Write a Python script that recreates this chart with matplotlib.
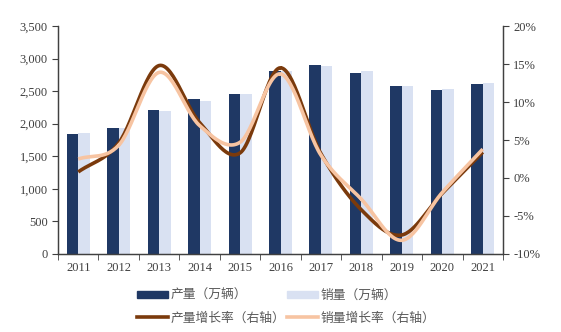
import numpy as np
import matplotlib.pyplot as plt
from matplotlib.patches import Patch
from matplotlib.lines import Line2D

plt.rcParams['font.family'] = ['Liberation Serif', 'Noto Sans CJK SC']

# data
years = ['2011', '2012', '2013', '2014', '2015', '2016', '2017', '2018', '2019', '2020', '2021']
production = [1841.9, 1927.2, 2211.7, 2372.3, 2450.3, 2811.9, 2901.5, 2780.9, 2572.1, 2522.5, 2608.2]
sales = [1850.5, 1930.6, 2198.4, 2349.2, 2459.8, 2802.8, 2887.9, 2808.1, 2576.9, 2531.1, 2627.5]
prod_growth = [0.8, 4.6, 14.8, 7.3, 3.3, 14.5, 3.2, -4.2, -7.5, -2.0, 3.4]
sales_growth = [2.5, 4.3, 13.9, 6.9, 4.7, 13.7, 3.0, -2.8, -8.2, -1.9, 3.8]

c_prod = '#1F3864'
c_sales = '#D9E1F2'
c_pg = '#7B3A0C'
c_sg = '#F7C4A2'
txt = '#404040'


def smooth(x, y, n=30):
    # catmull-rom spline through the points, like an excel "smoothed line"
    x = np.asarray(x, float)
    y = np.asarray(y, float)
    px = np.concatenate([[2 * x[0] - x[1]], x, [2 * x[-1] - x[-2]]])
    py = np.concatenate([[2 * y[0] - y[1]], y, [2 * y[-1] - y[-2]]])
    xs, ys = [], []
    t = np.linspace(0, 1, n)
    for i in range(1, len(px) - 2):
        for p, out in ((px, xs), (py, ys)):
            p0, p1, p2, p3 = p[i - 1], p[i], p[i + 1], p[i + 2]
            out.extend(0.5 * ((2 * p1) + (-p0 + p2) * t
                              + (2 * p0 - 5 * p1 + 4 * p2 - p3) * t ** 2
                              + (-p0 + 3 * p1 - 3 * p2 + p3) * t ** 3))
    return np.array(xs), np.array(ys)


fig = plt.figure(figsize=(5.61, 3.32), dpi=100)
ax = fig.add_axes([0.1034, 0.235, 0.7932, 0.6866])
ax2 = ax.twinx()

x = np.arange(len(years))
w = 0.285
ax.bar(x - w / 2, production, w, color=c_prod, zorder=2)
ax.bar(x + w / 2, sales, w, color=c_sales, zorder=2)

sx, sy = smooth(x, prod_growth)
ax2.plot(sx, sy, color=c_pg, lw=2.6, solid_capstyle='butt')
sx, sy = smooth(x, sales_growth)
ax2.plot(sx, sy, color=c_sg, lw=2.6, solid_capstyle='butt')

ax.set_xlim(-0.5, len(years) - 0.5)
ax.set_ylim(0, 3500)
ax.set_yticks(np.arange(0, 3501, 500))
ax.set_yticklabels([f'{v:,}' for v in range(0, 3501, 500)])
ax2.set_ylim(-10, 20)
ax2.set_yticks(np.arange(-10, 21, 5))
ax2.set_yticklabels([f'{v}%' for v in range(-10, 21, 5)])

ax.set_xticks(x)
ax.set_xticklabels(years)
ax.set_xticks(np.arange(-0.5, len(years), 1), minor=True)
ax.tick_params(axis='x', which='major', length=0, pad=6)
ax.tick_params(axis='x', which='minor', length=4, direction='out', color=txt)
ax.tick_params(axis='y', length=4, direction='out', color=txt)
ax2.tick_params(axis='y', length=4, direction='out', color=txt)

for a in (ax, ax2):
    a.tick_params(labelsize=9, labelcolor=txt)
    a.spines['top'].set_visible(False)
    for s in ('left', 'right', 'bottom'):
        a.spines[s].set_color(txt)
        a.spines[s].set_linewidth(0.9)

# legend filled column by column
handles = [
    Patch(color=c_prod), Line2D([], [], color=c_pg, lw=2.6),
    Patch(color=c_sales), Line2D([], [], color=c_sg, lw=2.6),
]
labels = ['产量（万辆）', '产量增长率（右轴）', '销量（万辆）', '销量增长率（右轴）']
fig.legend(handles, labels, ncol=2, loc='center', bbox_to_anchor=(0.51, 0.076),
           frameon=False, prop={'family': ['Noto Sans CJK SC'], 'size': 9.2},
           labelcolor='#595959', handlelength=2.4, handleheight=0.5,
           handletextpad=0.2, columnspacing=0.2, labelspacing=0.75)

fig.savefig('out.png', dpi=100)
